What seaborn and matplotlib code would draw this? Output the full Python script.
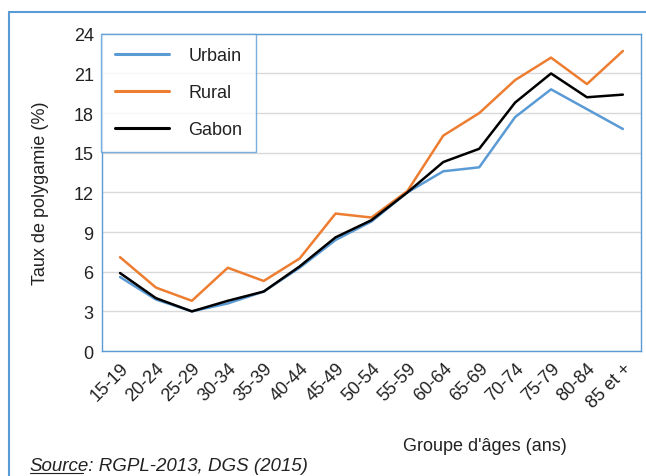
import numpy as np
import pandas as pd
import seaborn as sns
import matplotlib.pyplot as plt
from matplotlib.patches import Rectangle

# Données
groupes = ["15-19", "20-24", "25-29", "30-34", "35-39", "40-44", "45-49", "50-54",
           "55-59", "60-64", "65-69", "70-74", "75-79", "80-84", "85 et +"]
urbain = [5.6, 3.9, 3.0, 3.6, 4.5, 6.3, 8.4, 9.8, 12.0, 13.6, 13.9, 17.7, 19.8, 18.3, 16.8]
rural = [7.1, 4.8, 3.8, 6.3, 5.3, 7.0, 10.4, 10.1, 12.1, 16.3, 18.0, 20.5, 22.2, 20.2, 22.7]
gabon = [5.9, 4.0, 3.0, 3.8, 4.5, 6.4, 8.6, 9.9, 12.0, 14.3, 15.3, 18.8, 21.0, 19.2, 19.4]
y_ticks = [0, 3, 6, 9, 12, 15, 18, 21, 24]

df = pd.DataFrame({
    "Groupe": groupes * 3,
    "Taux": urbain + rural + gabon,
    "Zone": ["Urbain"] * 15 + ["Rural"] * 15 + ["Gabon"] * 15,
})

sns.set_theme(style="white")
plt.rcParams["font.family"] = ["Liberation Sans", "DejaVu Sans"]
fs = 13

fig = plt.figure(figsize=(6.46, 4.77), dpi=100)
ax = fig.add_axes([0.158, 0.262, 0.834, 0.665])

palette = {"Urbain": "#5B9BD5", "Rural": "#ED7D31", "Gabon": "#000000"}
sns.lineplot(data=df, x="Groupe", y="Taux", hue="Zone", palette=palette,
             linewidth=1.8, ax=ax, sort=False)

ax.set_xlim(-0.5, 14.5)
ax.set_ylim(0, 24)
ax.set_yticks(y_ticks)
ax.set_yticklabels([str(v) for v in y_ticks], fontsize=fs)
ax.set_xticks(range(len(groupes)))
ax.set_xticklabels(groupes, rotation=45, ha="right", rotation_mode="anchor", fontsize=fs)
ax.tick_params(axis="both", length=0, pad=6, colors="#222222")
ax.yaxis.grid(True, color="#D9D9D9", linewidth=1)
ax.set_axisbelow(True)
for s in ax.spines.values():
    s.set_color("#5B9BD5")
    s.set_linewidth(1)

ax.set_xlabel("")
ax.set_ylabel("Taux de polygamie (%)", fontsize=fs, color="#222222", labelpad=18)
fig.text(0.75, 0.055, "Groupe d'âges (ans)", fontsize=fs, ha="center", color="#222222")

leg = ax.legend(loc="upper left", bbox_to_anchor=(-0.002, 1.0), fontsize=fs,
                frameon=True, fancybox=False, borderpad=0.75, labelspacing=1.1,
                handlelength=3.0, handletextpad=1.1, borderaxespad=0)
leg.get_frame().set_edgecolor("#5B9BD5")
leg.get_frame().set_linewidth(1)
for t in leg.get_texts():
    t.set_color("#222222")
for h in leg.legend_handles:
    h.set_linewidth(2.2)

# cadre extérieur
fig.patches.append(Rectangle((9 / 646, -0.05), 1.0, 1 - 13 / 477 + 0.05,
                             transform=fig.transFigure, fill=False,
                             edgecolor="#5B9BD5", linewidth=1.5))

fig.text(0.046, 0.012, "Source", fontsize=13.5, style="italic", color="#222222")
fig.text(0.046 + 0.083, 0.012, " : RGPL-2013, DGS (2015)", fontsize=13.5,
         style="italic", color="#222222")
fig.add_artist(plt.Line2D([0.046, 0.129], [0.007, 0.007], color="#222222", linewidth=0.8))

fig.savefig("out.png", dpi=100)
